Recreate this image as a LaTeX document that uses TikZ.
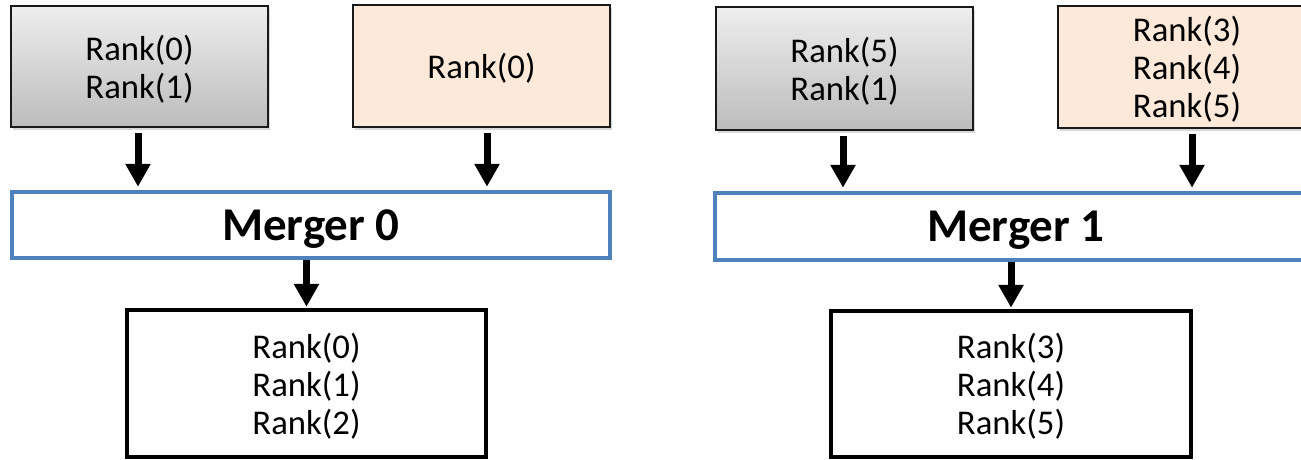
\documentclass[tikz,border=0pt]{standalone}
\usepackage{fontspec}
\setmainfont{Carlito}
\usetikzlibrary{arrows.meta,shadows}
\definecolor{mergeblue}{HTML}{4F81BD}
\definecolor{peach}{HTML}{FDE9D9}
\definecolor{greytop}{HTML}{EEEEEE}
\definecolor{greybot}{HTML}{BCBCBC}
\begin{document}
\begin{tikzpicture}[x=1pt,y=-1pt,
  rankfont/.style={font=\fontsize{34.7}{38}\selectfont},
  srcbox/.style={draw=black!90, line width=2pt, align=center, inner sep=0pt,
    text depth=0pt, rankfont,
    drop shadow={shadow xshift=1.5pt, shadow yshift=-3pt, opacity=0.3}},
  greybox/.style={srcbox, top color=greytop, bottom color=greybot},
  peachbox/.style={srcbox, fill=peach},
  mergebox/.style={draw=mergeblue, line width=4.5pt, fill=white, inner sep=0pt,
    text depth=0pt, font=\bfseries\fontsize{47}{50}\selectfont},
  outbox/.style={draw=black, line width=4.5pt, fill=white, align=center,
    inner sep=0pt, text depth=0pt, rankfont},
  arr/.style={line width=7pt, -{Triangle[width=24pt,length=23pt]},
    shorten <=5pt, shorten >=3pt},
  arrdown/.style={arr, shorten <=0pt, shorten >=1pt}]

\useasboundingbox (0,0) rectangle (1301,460);
\fill[white] (0,0) rectangle (1301,460);
\clip (0,0) rectangle (1301,460);

% ---- left group: Merger 0 ----
\node[greybox, minimum width=257pt, minimum height=121pt] (g0) at (139.5,66.5)
  {Rank(0)\\Rank(1)};
\node[peachbox, minimum width=257pt, minimum height=122pt] (o0) at (481.5,66)
  {Rank(0)};
\node[mergebox, minimum width=598pt, minimum height=66pt] (m0) at (311,225)
  {Merger 0};
\node[outbox, minimum width=359pt, minimum height=147pt] (b0) at (306.5,383.5)
  {Rank(0)\\Rank(1)\\Rank(2)};

% ---- right group: Merger 1 ----
\node[greybox, minimum width=257pt, minimum height=123pt] (g1) at (844.5,68.5)
  {Rank(5)\\Rank(1)};
\node[peachbox, minimum width=258pt, minimum height=122pt] (o1) at (1187,67)
  {Rank(3)\\Rank(4)\\Rank(5)};
\node[mergebox, minimum width=602pt, minimum height=67pt] (m1) at (1016,226.5)
  {Merger 1};
\node[outbox, minimum width=360pt, minimum height=146pt] (b1) at (1011,384)
  {Rank(3)\\Rank(4)\\Rank(5)};

% ---- connectors ----
\draw[arr] ([xshift=-1.5pt]g0.south) -- ([xshift=-1.5pt]g0.south |- m0.north);
\draw[arr] ([xshift=5.5pt]o0.south) -- ([xshift=5.5pt]o0.south |- m0.north);
\draw[arrdown] (b0.north |- m0.south) -- (b0.north);
\draw[arr] ([xshift=-1.5pt]g1.south) -- ([xshift=-1.5pt]g1.south |- m1.north);
\draw[arr] ([xshift=5pt]o1.south) -- ([xshift=5pt]o1.south |- m1.north);
\draw[arrdown] (b1.north |- m1.south) -- (b1.north);
\end{tikzpicture}
\end{document}
